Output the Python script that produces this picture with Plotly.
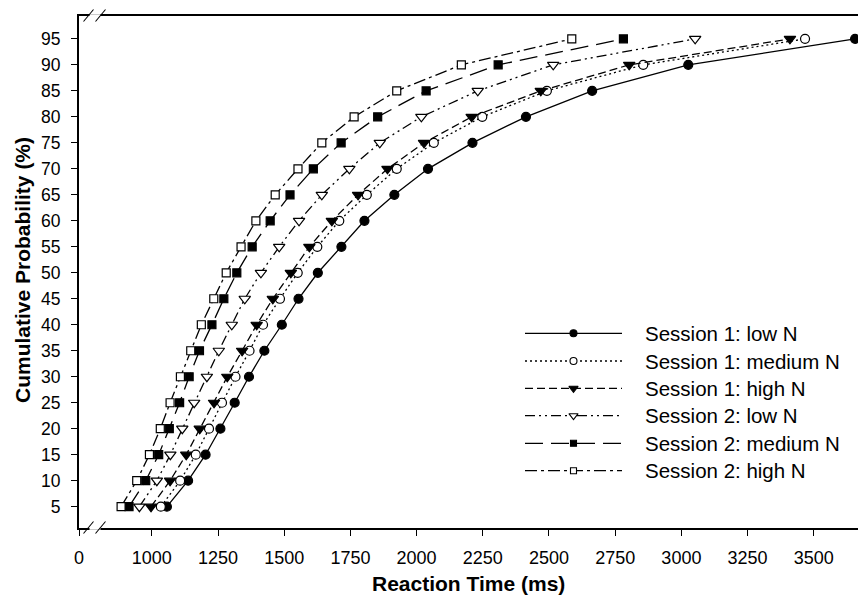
import plotly.graph_objects as go

# ---------------- data ----------------
probs = [5, 10, 15, 20, 25, 30, 35, 40, 45, 50, 55, 60, 65, 70, 75, 80, 85, 90, 95]
s1_low = [1057, 1137, 1203, 1259, 1313, 1367, 1425, 1491, 1554, 1627, 1716, 1803, 1916, 2043, 2211, 2413, 2663, 3026, 3656]
s1_med = [1034, 1107, 1166, 1216, 1265, 1316, 1369, 1420, 1484, 1551, 1625, 1708, 1812, 1925, 2065, 2248, 2492, 2856, 3467]
s1_high = [997, 1069, 1130, 1181, 1235, 1285, 1341, 1396, 1457, 1525, 1595, 1680, 1779, 1890, 2028, 2208, 2469, 2803, 3410]
s2_low = [953, 1019, 1070, 1115, 1160, 1208, 1253, 1302, 1351, 1412, 1481, 1556, 1642, 1746, 1861, 2018, 2231, 2516, 3052]
s2_med = [914, 977, 1026, 1066, 1105, 1141, 1180, 1227, 1272, 1321, 1379, 1447, 1522, 1610, 1715, 1853, 2036, 2308, 2781]
s2_high = [884, 943, 991, 1032, 1069, 1108, 1147, 1187, 1234, 1281, 1337, 1393, 1466, 1552, 1642, 1764, 1925, 2169, 2586]

series_names = ["Session 1: low N", "Session 1: medium N", "Session 1: high N",
                "Session 2: low N", "Session 2: medium N", "Session 2: high N"]
series_values = [s1_low, s1_med, s1_high, s2_low, s2_med, s2_high]

x_tickvals = [725, 1000, 1250, 1500, 1750, 2000, 2250, 2500, 2750, 3000, 3250, 3500]
x_ticktext = ["0", "1000", "1250", "1500", "1750", "2000", "2250", "2500", "2750", "3000", "3250", "3500"]
y_tickvals = probs

# ---------------- styles ----------------
styles = [
    dict(dash="solid", symbol="circle", fill="black", size=9),
    dict(dash="2px,3px", symbol="circle", fill="white", size=9),
    dict(dash="8px,4px", symbol="triangle-down", fill="black", size=10),
    dict(dash="10px,4px,2px,4px,2px,4px", symbol="triangle-down", fill="white", size=10),
    dict(dash="18px,8px", symbol="square", fill="black", size=8),
    dict(dash="12px,4px,3px,4px", symbol="square", fill="white", size=8),
]

fig = go.Figure()
for name, vals, st in zip(series_names, series_values, styles):
    fig.add_trace(go.Scatter(
        x=vals, y=probs, name=name, mode="lines+markers",
        line=dict(color="black", width=1.3, dash=st["dash"]),
        marker=dict(symbol=st["symbol"], size=st["size"], color=st["fill"],
                    line=dict(color="black", width=1.2)),
        showlegend=False,
    ))

# ---------------- custom legend ----------------
W, H = 858, 599
L, R, T, B = 79, 0, 16, 71
pw, ph = W - L - R, H - T - B

def px_x(p):
    return (p - L) / pw

def px_y(p):
    return (H - B - p) / ph

legend_rows_px = [333.3, 361.0, 388.3, 415.7, 443.3, 470.7]
for name, st, ry in zip(series_names, styles, legend_rows_px):
    yy = px_y(ry)
    fig.add_trace(go.Scatter(
        x=[0, 1], y=[yy, yy], mode="lines", xaxis="x2", yaxis="y2",
        line=dict(color="black", width=1.3, dash=st["dash"]),
        showlegend=False, hoverinfo="skip", cliponaxis=False,
    ))
    fig.add_trace(go.Scatter(
        x=[0.5], y=[yy], mode="markers", xaxis="x2", yaxis="y2",
        marker=dict(symbol=st["symbol"], size=st["size"] - 2, color=st["fill"],
                    line=dict(color="black", width=1.1)),
        showlegend=False, hoverinfo="skip", cliponaxis=False,
    ))
    fig.add_annotation(x=px_x(643), y=yy, xref="paper", yref="paper", text=name,
                       showarrow=False, xanchor="left", yanchor="middle",
                       font=dict(family="Liberation Sans, Arial, sans-serif", size=20.5, color="black"))

# ---------------- axis break marks ----------------
shapes = []
for ybase in (528, 16):
    shapes.append(dict(type="rect", xref="paper", yref="paper",
                       x0=px_x(89.5), x1=px_x(100.5), y0=px_y(ybase + 1.8), y1=px_y(ybase - 1.8),
                       fillcolor="white", line=dict(width=0), layer="above"))
    for x0 in (83.5, 95.5):
        shapes.append(dict(type="line", xref="paper", yref="paper",
                           x0=px_x(x0), y0=px_y(ybase + 5.5), x1=px_x(x0 + 10), y1=px_y(ybase - 6.5),
                           line=dict(color="black", width=1.1), layer="above"))

fig.update_layout(
    width=W, height=H,
    margin=dict(l=L, r=R, t=T, b=B),
    paper_bgcolor="white", plot_bgcolor="rgba(0,0,0,0)",
    showlegend=False,
    shapes=shapes,
    xaxis=dict(
        range=[725, 3667], tickvals=x_tickvals, ticktext=x_ticktext,
        showgrid=False, zeroline=False, showline=True, linecolor="black", linewidth=2,
        mirror=True, ticks="outside", ticklen=6, tickwidth=1.3, tickcolor="black",
        ticklabelstandoff=6,
        tickfont=dict(family="Liberation Sans Narrow, Arial Narrow, Liberation Sans, Arial", size=18, color="black"),
    ),
    yaxis=dict(
        range=[0.9, 99.4], tickvals=y_tickvals,
        showgrid=False, zeroline=False, showline=True, linecolor="black", linewidth=2,
        ticks="outside", ticklen=6, tickwidth=1.3, tickcolor="black",
        ticklabelstandoff=7,
        tickfont=dict(family="Liberation Sans, Arial, sans-serif", size=17.5, color="black"),
    ),
    xaxis2=dict(domain=[px_x(525), px_x(622)], range=[0, 1], visible=False, anchor="y2", fixedrange=True),
    yaxis2=dict(domain=[0, 1], range=[0, 1], visible=False, anchor="x2", fixedrange=True),
)

fig.add_annotation(x=0.5, y=px_y(583), xref="paper", yref="paper", text="<b>Reaction Time (ms)</b>",
                   showarrow=False, xanchor="center", yanchor="middle",
                   font=dict(family="Liberation Sans, Arial, sans-serif", size=21, color="black"))
fig.add_annotation(x=(22 - L) / pw, y=px_y(270), xref="paper", yref="paper",
                   text="<b>Cumulative Probability (%)</b>", textangle=-90,
                   showarrow=False, xanchor="center", yanchor="middle",
                   font=dict(family="Liberation Sans, Arial, sans-serif", size=21, color="black"))

fig.write_html("out.html", config={"displayModeBar": False},
               post_script="document.body.style.margin='0';document.body.style.overflow='hidden';")
